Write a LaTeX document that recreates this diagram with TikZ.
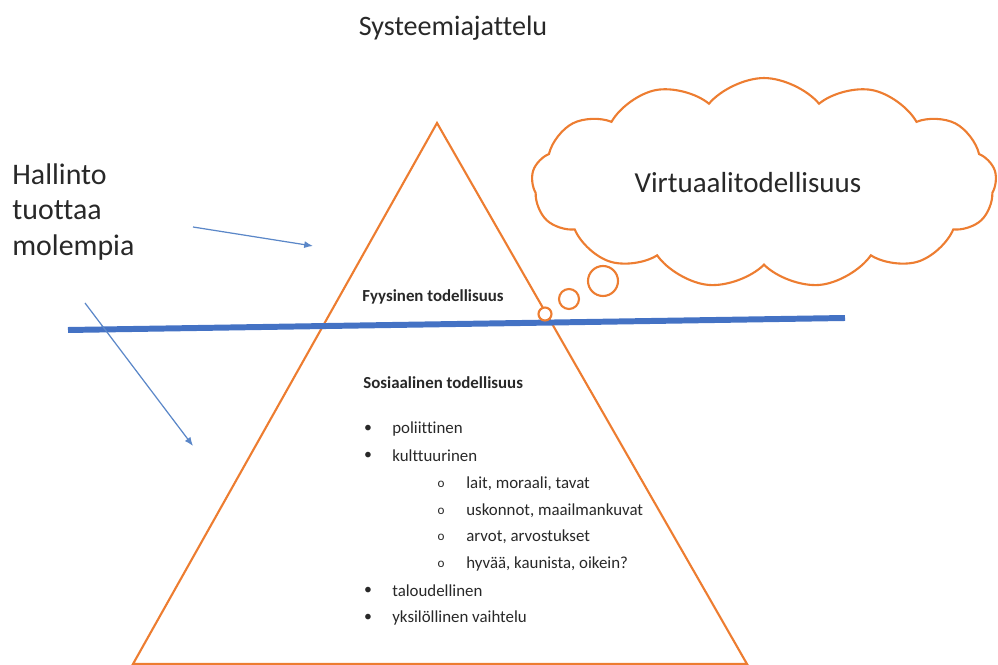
\documentclass[tikz,border=0pt]{standalone}
\usepackage{fontspec}
\setmainfont{Carlito}[Ligatures=NoCommon]
\usetikzlibrary{shapes.geometric, shapes.symbols, arrows.meta, positioning}
\definecolor{pyramidorange}{RGB}{237,125,49}
\definecolor{levelblue}{RGB}{68,114,196}
\definecolor{arrowblue}{RGB}{91,135,200}
\definecolor{inkgrey}{RGB}{40,40,40}

\tikzset{
  itemtext/.style={anchor=west, inner sep=0pt, text=inkgrey, font=\fontsize{9.6}{11}\selectfont},
  headtext/.style={itemtext, font=\fontsize{9.6}{11}\selectfont\bfseries},
  mark dot/.style={anchor=center, inner sep=0pt, text=inkgrey, font=\fontsize{9}{10}\selectfont},
  mark ring/.style={mark dot, font=\fontsize{7.5}{9}\selectfont},
  thought/.style={circle, draw=pyramidorange, line width=1.2pt, fill=white, inner sep=0pt},
  leader/.style={-{Latex[length=5pt,width=4pt]}, arrowblue, line width=0.7pt}
}

\begin{document}
\begin{tikzpicture}[x=0.02cm, y=-0.02cm]
\useasboundingbox (0,0) rectangle (998,665);

% Pyramid
\coordinate (apex) at (437,123);
\coordinate (baseR) at (747,664);
\coordinate (baseL) at (133,664);
\draw[pyramidorange, line width=1.2pt] (apex) -- (baseR) -- (baseL) -- cycle;

% Border between physical and social reality
\coordinate (levelL) at (68,330);
\coordinate (levelR) at (845,318);
\draw[levelblue, line width=3.4pt] (levelL) -- (levelR);

% Thought cloud
\node[cloud, cloud puffs=13, cloud puff arc=100, aspect=2.4, draw=pyramidorange, line width=1.2pt,
      fill=white, minimum width=9.3cm, minimum height=4.2cm] (cloud) at (764,183) {};
\node[text=inkgrey, font=\fontsize{16.5}{19}\selectfont] (virtual) at (748,183) {Virtuaalitodellisuus};
\node[thought, minimum size=0.6cm] (bubbleA) at (603,281) {};
\node[thought, minimum size=0.4cm] (bubbleB) at (569,299) {};
\node[thought, minimum size=0.26cm] (bubbleC) at (545,314) {};

% Titles
\node[text=inkgrey, font=\fontsize{16}{19}\selectfont] (system) at (453,28) {Systeemiajattelu};
\node[anchor=north west, align=left, inner sep=0pt, text=inkgrey,
      font=\fontsize{17}{20.4}\selectfont] (admin) at (12,163) {Hallinto\\tuottaa\\molempia};

% Arrows from the administration
\coordinate (upperS) at (193,227);
\coordinate (upperE) at (313,246);
\coordinate (lowerS) at (85,303);
\coordinate (lowerE) at (193,446);
\draw[leader] (upperS) -- (upperE);
\draw[leader] (lowerS) -- (lowerE);

% Physical reality
\node[headtext] (physical) at (362,297) {Fyysinen todellisuus};

% Social reality
\node[headtext] (social) at (363,383) {Sosiaalinen todellisuus};
\node[mark dot] (b1) at (368,429) {•};
\node[itemtext] (i1) at (392,429) {poliittinen};
\node[mark dot] (b2) at (368,456) {•};
\node[itemtext] (i2) at (392,456) {kulttuurinen};
\node[mark ring] (s1) at (441,484) {o};
\node[itemtext] (j1) at (466,484) {lait, moraali, tavat};
\node[mark ring] (s2) at (441,511) {o};
\node[itemtext] (j2) at (466,511) {uskonnot, maailmankuvat};
\node[mark ring] (s3) at (441,537) {o};
\node[itemtext] (j3) at (466,537) {arvot, arvostukset};
\node[mark ring] (s4) at (441,564) {o};
\node[itemtext] (j4) at (466,564) {hyvää, kaunista, oikein?};
\node[mark dot] (b3) at (368,591) {•};
\node[itemtext] (i3) at (392,591) {taloudellinen};
\node[mark dot] (b4) at (368,618) {•};
\node[itemtext] (i4) at (392,618) {yksilöllinen vaihtelu};
\end{tikzpicture}
\end{document}
